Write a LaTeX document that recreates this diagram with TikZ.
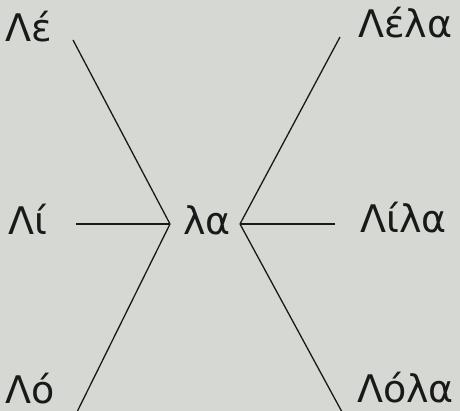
\documentclass[tikz,border=0pt]{standalone}
\usepackage{fontspec}
\setmainfont{DejaVu Sans}
\definecolor{paper}{RGB}{214,217,211}
\definecolor{ink}{RGB}{25,25,25}
\begin{document}
\begin{tikzpicture}[
  x=1pt, y=-1pt,
  word/.style={anchor=base west, inner sep=0pt, text=ink,
    font=\fontsize{38}{38}\selectfont},
  link/.style={line width=1.3pt, draw=ink},
]
  \fill[paper] (0,0) rectangle (460,411);
  \useasboundingbox (0,0) rectangle (460,411);

  \node[word] (le) at (5,42) {Λέ};
  \node[word] (li) at (8,235) {Λί};
  \node[word] (lo) at (5,403) {Λό};
  \node[word] (la) at (183,235) {λα};
  \node[word] (lela) at (358,38) {Λέλα};
  \node[word] (lila) at (360,233) {Λίλα};
  \node[word] (lola) at (357,402) {Λόλα};

  \coordinate (la-l) at (170,224);
  \coordinate (la-r) at (240,224);
  \coordinate (le-e) at (73,40);
  \coordinate (li-e) at (76,224);
  \coordinate (lo-e) at (77,412);
  \coordinate (lela-e) at (340,37);
  \coordinate (lila-e) at (335,224);
  \coordinate (lola-e) at (342,412);

  \draw[link] (le-e) -- (la-l);
  \draw[link] (li-e) -- (la-l);
  \draw[link] (lo-e) -- (la-l);
  \draw[link] (lela-e) -- (la-r);
  \draw[link] (lila-e) -- (la-r);
  \draw[link] (lola-e) -- (la-r);
\end{tikzpicture}
\end{document}
